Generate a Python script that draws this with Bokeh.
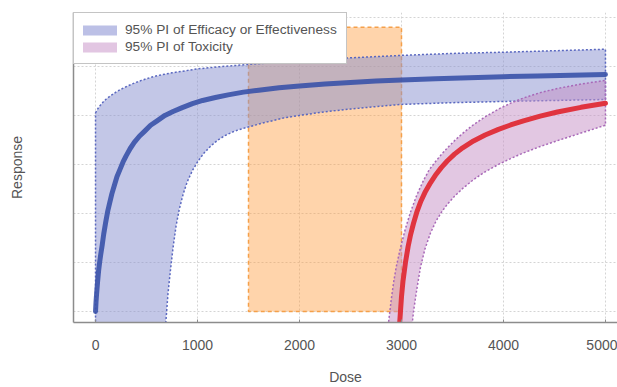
from bokeh.plotting import figure
from bokeh.models import Range1d, FixedTicker, ColumnDataSource, Legend, LegendItem
from bokeh.embed import file_html
from bokeh.resources import INLINE

# ---- data ----
eff_dose = [0, 5, 10, 20, 30, 40, 50, 65, 80, 100, 120, 140, 160, 185, 210, 240, 270, 300, 340,
            380, 430, 480, 540, 600, 680, 760, 850, 950, 1050, 1175, 1300, 1450, 1600, 1800,
            2000, 2250, 2500, 2750, 3000, 3333, 3666, 4000, 4333, 4666, 5000]
eff_mean = [0.0, 0.04, 0.07, 0.12, 0.165, 0.20, 0.23, 0.27, 0.315, 0.365, 0.41, 0.445, 0.48,
            0.515, 0.55, 0.58, 0.61, 0.635, 0.665, 0.69, 0.715, 0.735, 0.76, 0.777, 0.80, 0.816,
            0.832, 0.848, 0.861, 0.873, 0.884, 0.895, 0.903, 0.913, 0.92, 0.928, 0.934, 0.94,
            0.945, 0.95, 0.954, 0.958, 0.961, 0.964, 0.967]

eff_up_dose = [0, 15, 30, 50, 75, 100, 130, 160, 200, 250, 314, 380, 450, 540, 637, 750, 880,
               1000, 1200, 1490, 1800, 2100, 2500, 3000, 3500, 4000, 4500, 5000]
eff_up = [0.81, 0.822, 0.832, 0.843, 0.855, 0.865, 0.875, 0.884, 0.895, 0.907, 0.92, 0.932,
          0.943, 0.955, 0.965, 0.974, 0.982, 0.99, 0.998, 1.008, 1.017, 1.025, 1.035, 1.045,
          1.053, 1.058, 1.064, 1.07]

eff_lo_dose = [0, 600, 640, 665, 690, 710, 735, 760, 790, 820, 860, 900, 950, 1000, 1060, 1130,
               1200, 1280, 1370, 1490, 1650, 1850, 2000, 2250, 2500, 2750, 3000, 3500, 4000,
               4500, 5000]
eff_lo = [-0.6, -0.6, -0.35, -0.18, -0.04, 0.07, 0.17, 0.26, 0.35, 0.415, 0.48, 0.53, 0.575,
          0.61, 0.645, 0.675, 0.70, 0.72, 0.737, 0.752, 0.77, 0.79, 0.80, 0.815, 0.826, 0.836,
          0.845, 0.852, 0.857, 0.861, 0.865]

tox_dose = [2975, 2990, 3000, 3015, 3039, 3065, 3090, 3118, 3150, 3190, 3235, 3284, 3340, 3390,
            3451, 3520, 3600, 3706, 3820, 3951, 4070, 4196, 4360, 4529, 4760, 5000]
tox_mean = [-0.09, 0.0, 0.06, 0.125, 0.20, 0.265, 0.315, 0.36, 0.405, 0.45, 0.49, 0.525, 0.56,
            0.587, 0.615, 0.642, 0.668, 0.696, 0.72, 0.743, 0.761, 0.778, 0.797, 0.814, 0.833,
            0.85]

tox_up_dose = [2850, 2873, 2900, 2925, 2950, 2990, 3040, 3088, 3150, 3216, 3270, 3330, 3390,
               3451, 3520, 3600, 3706, 3830, 3951, 4070, 4196, 4360, 4529, 4760, 5000]
tox_up = [-0.14, -0.045, 0.05, 0.125, 0.185, 0.26, 0.34, 0.405, 0.475, 0.535, 0.577, 0.61,
          0.64, 0.668, 0.697, 0.727, 0.762, 0.797, 0.826, 0.85, 0.871, 0.893, 0.91, 0.928, 0.943]

tox_lo_dose = [3100, 3118, 3150, 3186, 3230, 3284, 3340, 3400, 3451, 3520, 3600, 3706, 3820,
               3951, 4070, 4196, 4360, 4529, 4760, 5000]
tox_lo = [-0.07, 0.0, 0.09, 0.18, 0.255, 0.32, 0.37, 0.41, 0.438, 0.47, 0.502, 0.538, 0.57,
          0.60, 0.624, 0.647, 0.673, 0.697, 0.728, 0.76]

window_dose = [1500, 3000]
window_resp = [0.0, 1.16]

x_ticks = [0, 1000, 2000, 3000, 4000, 5000]
y_grid = [0, 0.2, 0.4, 0.6, 0.8, 1.0, 1.2]
legend_labels = ["95% PI of Efficacy or Effectiveness", "95% PI of Toxicity"]

FONT = "Liberation Sans"
TXT = "#555555"

p = figure(width=617, height=387, output_backend="svg", toolbar_location=None,
           x_range=Range1d(-216, 5118), y_range=Range1d(-0.045, 1.22),
           min_border_left=73, min_border_right=0, min_border_top=12, min_border_bottom=65)
p.outline_line_color = None
p.background_fill_color = "white"

# grid
p.xgrid.ticker = FixedTicker(ticks=x_ticks)
p.ygrid.ticker = FixedTicker(ticks=y_grid)
for g in (p.xgrid, p.ygrid):
    g.grid_line_color = "#d4d4d4"
    g.grid_line_dash = "2 2"
    g.grid_line_width = 1

# therapeutic window rectangle
p.quad(left=[window_dose[0]], right=[window_dose[1]], bottom=[window_resp[0]], top=[window_resp[1]],
       fill_color="#ff9f45", fill_alpha=0.45, line_color="#f5a04a", line_dash="4 3", line_width=1.5)

# efficacy band
ex = eff_up_dose + eff_lo_dose[::-1]
ey = eff_up + eff_lo[::-1]
p.patch(ex, ey, fill_color="#8790cf", fill_alpha=0.5, line_color="#5a68c0",
        line_dash="2 2", line_width=1.5)

# toxicity band
tx = tox_up_dose + tox_lo_dose[::-1]
ty = tox_up + tox_lo[::-1]
p.patch(tx, ty, fill_color="#c590c5", fill_alpha=0.5, line_color="#a868b8",
        line_dash="2 2", line_width=1.5)

# mean curves
p.line(eff_dose, eff_mean, line_color="#3a52a8", line_width=5, line_cap="round",
       line_join="round", line_alpha=0.9)
p.line(tox_dose, tox_mean, line_color="#e0343f", line_width=5, line_cap="round",
       line_join="round")

# legend (dummy renderers, nothing drawn in the plot)
nan = float("nan")
src = ColumnDataSource(data=dict(x=[nan], y=[nan]))
r1 = p.line("x", "y", source=src, line_color="#bcc0e6", line_width=10, line_cap="round")
r2 = p.line("x", "y", source=src, line_color="#e2c6e2", line_width=10, line_cap="round")
legend = Legend(items=[LegendItem(label=legend_labels[0], renderers=[r1]),
                       LegendItem(label=legend_labels[1], renderers=[r2])],
                location="top_left", margin=0, padding=9, spacing=2,
                glyph_width=34, glyph_height=14, label_standoff=8,
                label_text_font=FONT, label_text_font_size="13.7px", label_text_color=TXT,
                border_line_color="#8a8a8a", border_line_width=1,
                background_fill_color="white", background_fill_alpha=1.0)
p.add_layout(legend, "center")

# axes
xa = p.xaxis[0]
ya = p.yaxis[0]
xa.ticker = FixedTicker(ticks=x_ticks)
xa.major_tick_in = 3
xa.major_tick_out = 0
xa.minor_tick_line_color = None
xa.major_label_standoff = 17
xa.axis_label = "Dose"
xa.axis_label_standoff = 16
xa.major_label_text_font_size = "14px"

ya.ticker = FixedTicker(ticks=y_grid)
ya.major_tick_in = 0
ya.major_tick_out = 0
ya.minor_tick_line_color = None
ya.major_label_text_font_size = "0px"
ya.axis_label = "Response"
ya.axis_label_standoff = 49

for ax in (xa, ya):
    ax.axis_line_color = "#8c8c8c"
    ax.axis_line_width = 1.5
    ax.major_tick_line_color = "#8c8c8c"
    ax.major_label_text_font = FONT
    ax.major_label_text_color = TXT
    ax.axis_label_text_font = FONT
    ax.axis_label_text_font_size = "14px"
    ax.axis_label_text_font_style = "normal"
    ax.axis_label_text_color = TXT

open("out.html", "w").write(file_html(p, INLINE))
